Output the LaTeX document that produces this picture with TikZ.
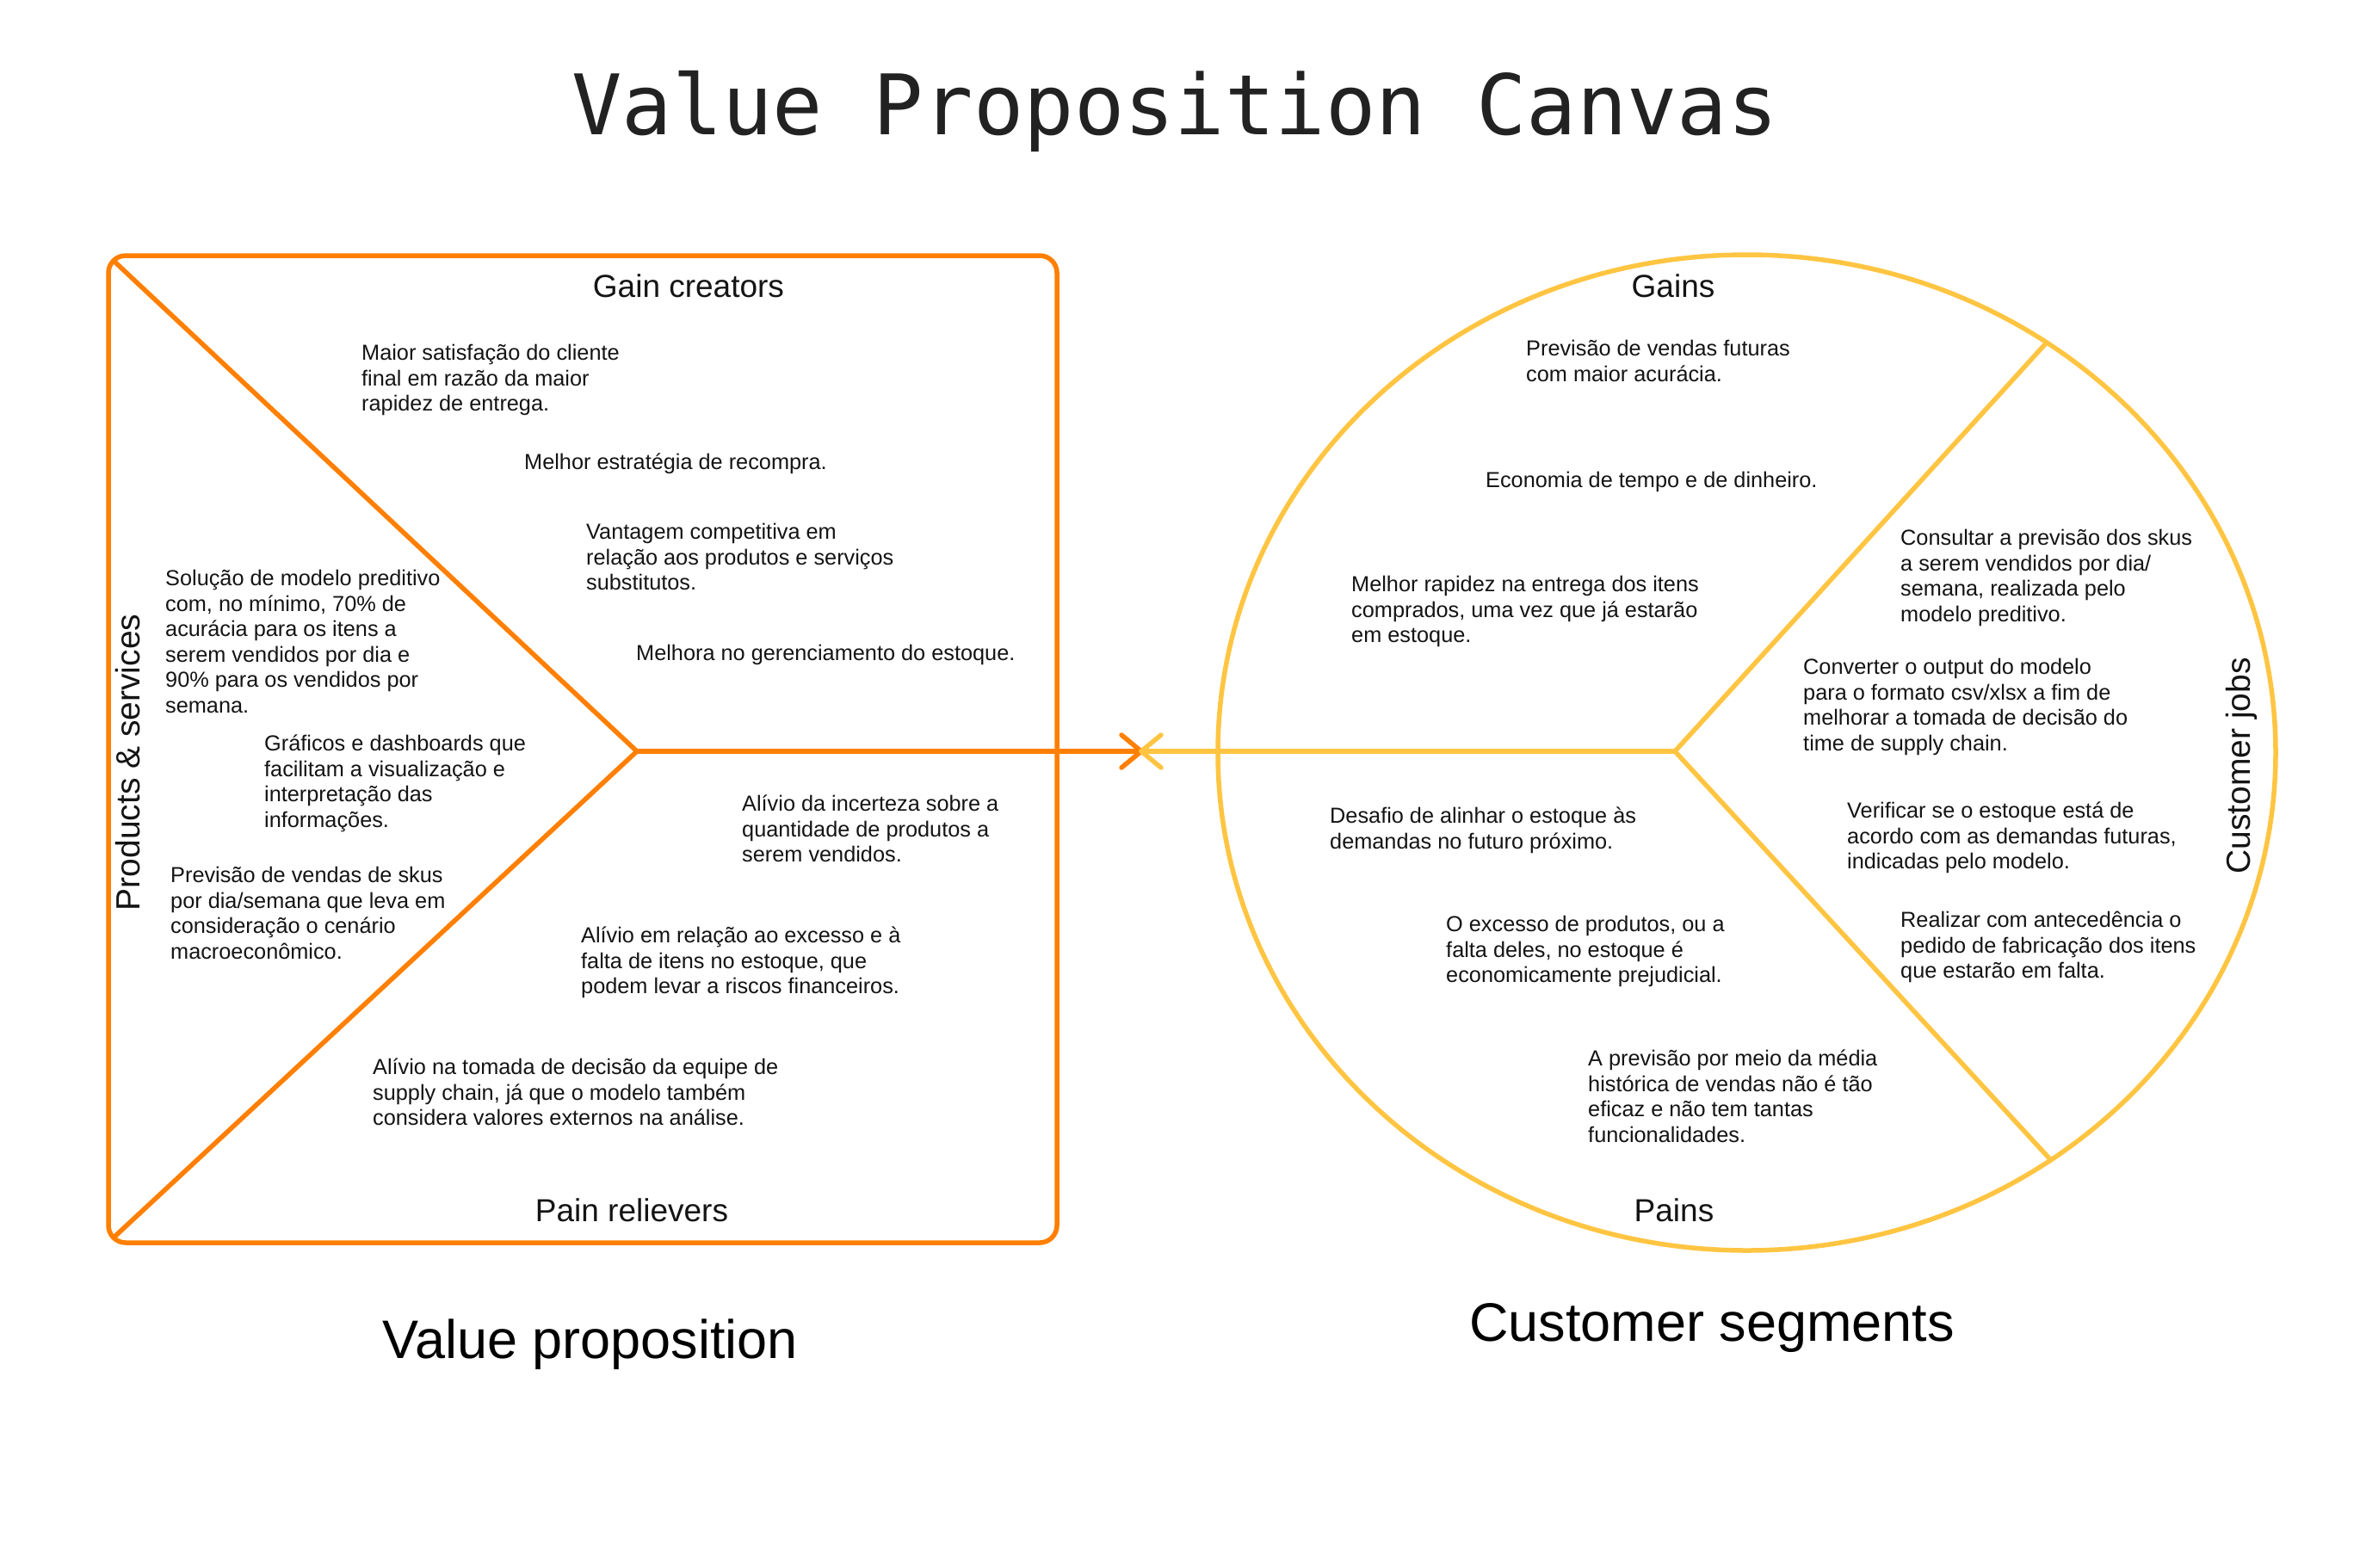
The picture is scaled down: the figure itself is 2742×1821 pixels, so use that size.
\documentclass[tikz,border=0pt]{standalone}
\usepackage{fontspec}
\setmainfont{Liberation Sans}
\newfontfamily\titlefont{DejaVu Sans Mono}
\definecolor{vpor}{RGB}{255,127,0}
\definecolor{vpye}{RGB}{255,197,66}
\definecolor{txt}{RGB}{20,20,20}
\definecolor{ttl}{RGB}{34,34,34}
\tikzset{
  body/.style={anchor=north west, inner sep=0pt, align=left, text=txt,
    font=\fontsize{25.3}{29.5}\selectfont},
  seclbl/.style={anchor=base, inner sep=0pt, text=txt, font=\fontsize{37}{44}\selectfont},
  sidelbl/.style={anchor=base, inner sep=0pt, rotate=90, text=txt, font=\fontsize{39}{46}\selectfont},
  biglbl/.style={anchor=base, inner sep=0pt, text=black, font=\fontsize{63}{75}\selectfont},
  oline/.style={draw=vpor, line width=5.5pt},
  yline/.style={draw=vpye, line width=5.5pt},
}
\begin{document}
\begin{tikzpicture}[x=1pt,y=-1pt]
\fill[white] (0,0) rectangle (2742,1821);
\useasboundingbox (0,0) rectangle (2742,1821);

% title
\node[anchor=base, inner sep=0pt, text=ttl, font=\titlefont\fontsize{97}{110}\selectfont] (title) at (1365,156) {Value Proposition Canvas};

% coordinates
\coordinate (tl) at (132,303);
\coordinate (vx) at (740,873);
\coordinate (bl) at (132,1438);
\coordinate (tip) at (1326,873);
\coordinate (ev) at (1946,873);
\coordinate (eu) at (2377,399);
\coordinate (ed) at (2381,1346);
\coordinate (ec) at (2029.5,874.5);

% value proposition square
\draw[oline, rounded corners=20pt] (126,297) rectangle (1228,1444);
\draw[oline] (tl) -- (vx) -- (bl);
\draw[oline, line cap=round] (vx) -- (tip);
\draw[oline, line cap=round, line join=round] ([shift={(-23,-19)}]tip) -- (tip) -- ([shift={(-23,19)}]tip);

% customer ellipse
\draw[yline] (ec) ellipse [x radius=614.5, y radius=578.5];
\draw[yline, line join=round] (eu) -- (ev) -- (ed);
\draw[yline, line cap=round] (ev) -- (tip);
\draw[yline, line cap=round, line join=round] ([shift={(23,-19)}]tip) -- (tip) -- ([shift={(23,19)}]tip);

% section labels
\node[seclbl] (gc) at (800,345) {Gain creators};
\node[seclbl] (pr) at (734,1419) {Pain relievers};
\node[seclbl] (gn) at (1944,345) {Gains};
\node[seclbl] (pn) at (1945,1419) {Pains};
\node[sidelbl] (ps) at (162,886) {Products \& services};
\node[sidelbl] (cj) at (2614,890) {Customer jobs};
\node[biglbl] (vp) at (686,1578) {Value proposition};
\node[biglbl] (cs) at (1989,1558) {Customer segments};

% left texts
\node[body] (t1) at (420,400) {Maior satisfação do cliente\\final em razão da maior\\rapidez de entrega.};
\node[body] (t2) at (609,527) {Melhor estratégia de recompra.};
\node[body] (t3) at (681,608) {Vantagem competitiva em\\relação aos produtos e serviços\\substitutos.};
\node[body] (t4) at (739,749) {Melhora no gerenciamento do estoque.};
\node[body] (t5) at (192,662) {Solução de modelo preditivo\\com, no mínimo, 70\% de\\acurácia para os itens a\\serem vendidos por dia e\\90\% para os vendidos por\\semana.};
\node[body] (t6) at (307,854) {Gráficos e dashboards que\\facilitam a visualização e\\interpretação das\\informações.};
\node[body] (t7) at (198,1007) {Previsão de vendas de skus\\por dia/semana que leva em\\consideração o cenário\\macroeconômico.};
\node[body] (t8) at (862,924) {Alívio da incerteza sobre a\\quantidade de produtos a\\serem vendidos.};
\node[body] (t9) at (675,1077) {Alívio em relação ao excesso e à\\falta de itens no estoque, que\\podem levar a riscos financeiros.};
\node[body] (t10) at (433,1230) {Alívio na tomada de decisão da equipe de\\supply chain, já que o modelo também\\considera valores externos na análise.};

% right texts
\node[body] (r1) at (1773,395) {Previsão de vendas futuras\\com maior acurácia.};
\node[body] (r2) at (1726,548) {Economia de tempo e de dinheiro.};
\node[body] (r3) at (1570,669) {Melhor rapidez na entrega dos itens\\comprados, uma vez que já estarão\\em estoque.};
\node[body] (r4) at (2208,615) {Consultar a previsão dos skus\\a serem vendidos por dia/\\semana, realizada pelo\\modelo preditivo.};
\node[body] (r5) at (2095,765) {Converter o output do modelo\\para o formato csv/xlsx a fim de\\melhorar a tomada de decisão do\\time de supply chain.};
\node[body] (r6) at (1545,938) {Desafio de alinhar o estoque às\\demandas no futuro próximo.};
\node[body] (r7) at (2146,932) {Verificar se o estoque está de\\acordo com as demandas futuras,\\indicadas pelo modelo.};
\node[body] (r8) at (1680,1064) {O excesso de produtos, ou a\\falta deles, no estoque é\\economicamente prejudicial.};
\node[body] (r9) at (2208,1059) {Realizar com antecedência o\\pedido de fabricação dos itens\\que estarão em falta.};
\node[body] (r10) at (1845,1220) {A previsão por meio da média\\histórica de vendas não é tão\\eficaz e não tem tantas\\funcionalidades.};
\end{tikzpicture}
\end{document}
